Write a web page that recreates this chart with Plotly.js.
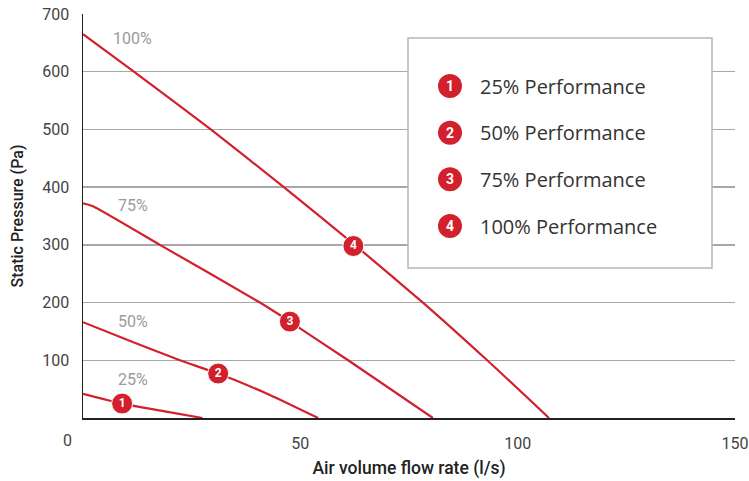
<!DOCTYPE html>
<html>
<head>
<meta charset="utf-8">
<script src="https://cdn.plot.ly/plotly-3.0.1.min.js"></script>
<style>html,body{margin:0;padding:0;background:#fff;}#chart{width:749px;height:481px;}</style>
</head>
<body>
<div id="chart"></div>
<script>
// Curve data (flow l/s, static pressure Pa)
const flow25 = [0, 9, 18.5, 27.5];
const pres25 = [42, 25, 12, 0];
const flow50 = [0, 11, 22.3, 31.1, 43, 54.1];
const pres50 = [166, 133, 100, 77, 40, 0];
const flow75 = [0, 2.3, 17.7, 40.7, 47.6, 61, 80.5];
const pres75 = [372, 367, 300, 200, 167, 100, 0];
const flow100 = [0, 11.7, 29.4, 46.2, 62.5, 78.2, 93, 107.2];
const pres100 = [665, 600, 500, 400, 300, 200, 100, 0];

// Numbered markers on the curves
const markerFlow = [9, 31.1, 47.6, 62.2];
const markerPres = [25, 77, 167, 298];
const markerNums = ['1', '2', '3', '4'];

// Curve labels
const curveLabels = ['25%', '50%', '75%', '100%'];
const curveLabelFlow = [11.4, 11.4, 11.4, 11.4];
const curveLabelPres = [67, 168, 368, 658];

// Legend entries
const legendLabels = ['25% Performance', '50% Performance', '75% Performance', '100% Performance'];

// Ticks
const xTicks = [50, 100, 150];
const xTickText = ['50', '100', '150'];
const yTicks = [100, 200, 300, 400, 500, 600, 700];
const yTickText = ['100', '200', '300', '400', '500', '600', '700'];

const RED = '#d2202c';
const FONT = 'Roboto, "Open Sans", sans-serif';
const LFONT = '"Open Sans", Roboto, sans-serif';

const lineStyle = {color: RED, width: 2.2, shape: 'spline', smoothing: 0.5};
const traces = [
  {x: flow25, y: pres25, mode: 'lines', line: lineStyle, hoverinfo: 'skip'},
  {x: flow50, y: pres50, mode: 'lines', line: lineStyle, hoverinfo: 'skip'},
  {x: flow75, y: pres75, mode: 'lines', line: lineStyle, hoverinfo: 'skip'},
  {x: flow100, y: pres100, mode: 'lines', line: lineStyle, hoverinfo: 'skip'},
  {x: markerFlow, y: markerPres, mode: 'markers+text', text: markerNums,
   textposition: 'middle center',
   textfont: {family: FONT, size: 12, color: '#fff', weight: 700},
   marker: {size: 21, color: RED, line: {color: '#fff', width: 1}}, hoverinfo: 'skip'}
];

// pixel helpers for the legend box (plot area: x 83..735, y 14..418)
const px = X => (X - 83) / 652;
const py = Y => (418 - Y) / 404;

const legendRows = [86, 132.7, 179.3, 226];
const shapes = [
  {type: 'rect', xref: 'paper', yref: 'paper', x0: px(408), x1: px(712), y0: py(268), y1: py(38),
   line: {color: '#b5b5b5', width: 1.5}, fillcolor: '#fff', layer: 'above'}
];
const annotations = [];
legendRows.forEach((Y, i) => {
  shapes.push({type: 'circle', xref: 'paper', yref: 'paper', xsizemode: 'pixel', ysizemode: 'pixel',
    xanchor: px(450), yanchor: py(Y), x0: -12, x1: 12, y0: -12, y1: 12,
    fillcolor: RED, line: {width: 0}, layer: 'above'});
  annotations.push({xref: 'paper', yref: 'paper', x: px(450), y: py(Y), text: markerNums[i],
    showarrow: false, xanchor: 'center', yanchor: 'middle',
    font: {family: FONT, size: 14, color: '#fff', weight: 700}});
  annotations.push({xref: 'paper', yref: 'paper', x: px(478), y: py(Y), text: legendLabels[i],
    showarrow: false, xanchor: 'left', yanchor: 'middle',
    font: {family: LFONT, size: 20, color: '#333'}});
});
curveLabels.forEach((t, i) => {
  annotations.push({xref: 'x', yref: 'y', x: curveLabelFlow[i], y: curveLabelPres[i], text: t,
    showarrow: false, xanchor: 'center', yanchor: 'middle',
    font: {family: FONT, size: 16, color: '#9a9a9a'}});
});
// corner "0" label
annotations.push({xref: 'x', yref: 'y', x: 0, y: 0, xshift: -16, yshift: -22, text: '0',
  showarrow: false, xanchor: 'center', yanchor: 'middle',
  font: {family: FONT, size: 16, color: '#444'}});

const layout = {
  width: 749, height: 481,
  margin: {l: 83, r: 14, t: 14, b: 63},
  paper_bgcolor: '#fff', plot_bgcolor: '#fff',
  showlegend: false,
  font: {family: FONT, color: '#333'},
  xaxis: {
    range: [0, 150], tickvals: xTicks, ticktext: xTickText,
    showgrid: false, zeroline: false, showline: true, linecolor: '#222', linewidth: 1.5,
    ticks: 'outside', ticklen: 10, tickcolor: 'rgba(0,0,0,0)',
    tickfont: {family: FONT, size: 16, color: '#444'},
    title: {text: 'Air volume flow rate (l/s)', standoff: 10,
      font: {family: FONT, size: 17.5, color: '#222', weight: 500}}
  },
  yaxis: {
    range: [0, 700], tickvals: yTicks, ticktext: yTickText,
    showgrid: true, gridcolor: '#a8a8a8', gridwidth: 1.3,
    zeroline: false, showline: true, linecolor: '#222', linewidth: 1.5,
    ticks: 'outside', ticklen: 9, tickcolor: 'rgba(0,0,0,0)',
    tickfont: {family: FONT, size: 16, color: '#444'},
    title: {text: 'Static Pressure (Pa)', standoff: 14,
      font: {family: FONT, size: 16, color: '#222', weight: 500}}
  },
  shapes: shapes,
  annotations: annotations
};

Plotly.newPlot('chart', traces, layout, {displayModeBar: false, staticPlot: true});
</script>
</body>
</html>
